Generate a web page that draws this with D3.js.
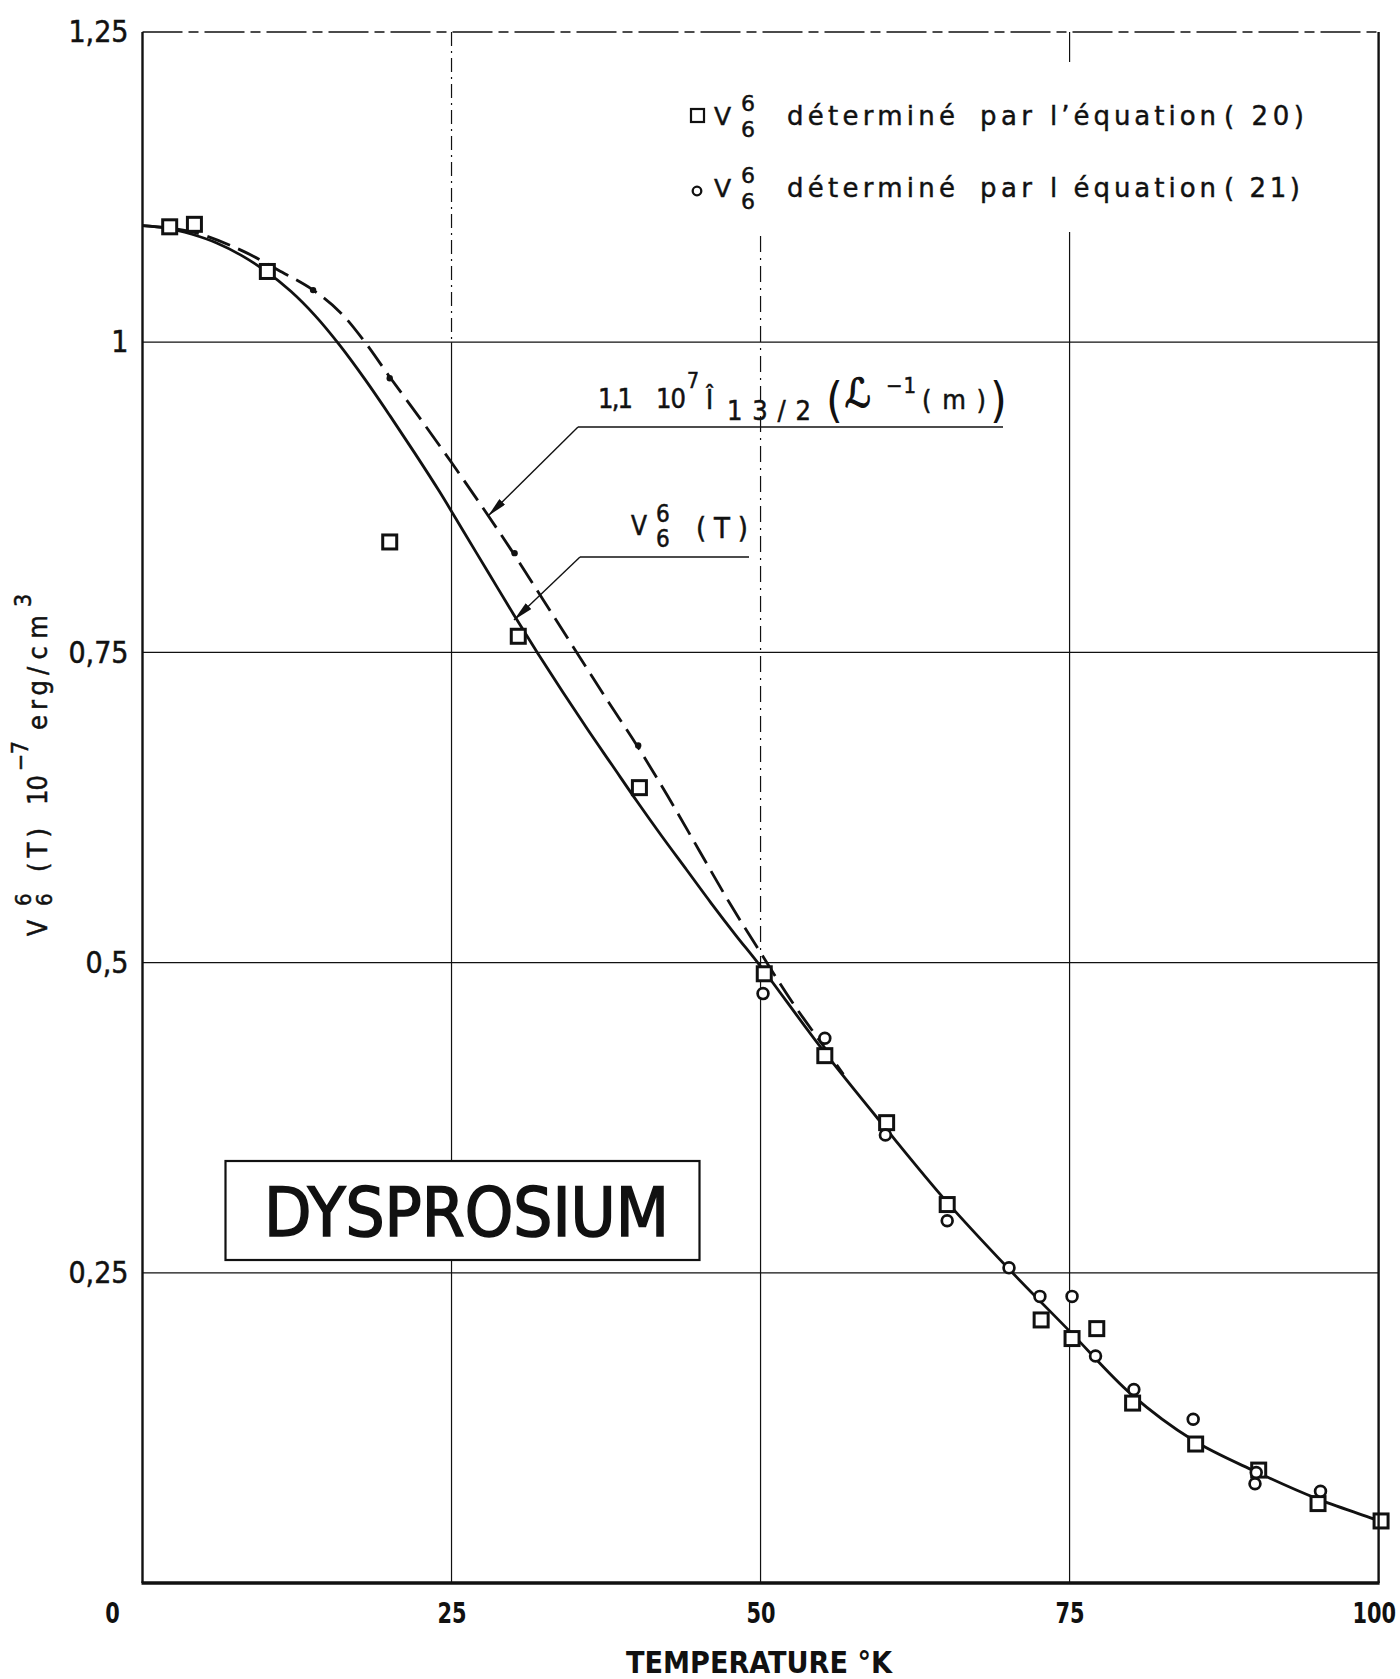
<!DOCTYPE html>
<html><head><meta charset="utf-8">
<script src="https://cdn.jsdelivr.net/npm/d3@7"></script>
<style>body{margin:0;background:#fff} svg{display:block}</style>
</head><body><svg id="c" width="1400" height="1679"></svg>
<script>
// ---- data ----
const xTicks = [0, 25, 50, 75, 100];
const xTickLabels = ["0", "25", "50", "75", "100"];
const yTicks = [0.25, 0.5, 0.75, 1, 1.25];
const yTickLabels = ["0,25", "0,5", "0,75", "1", "1,25"];

// V66 determined by equation (20): squares
const eq20T = [2.2, 4.2, 10.1, 20.0, 30.4, 40.2, 50.3, 55.2, 60.2, 65.1, 72.7, 75.2, 77.2, 80.1, 85.2, 90.3, 95.1, 100.2];
const eq20V = [1.093, 1.095, 1.057, 0.839, 0.763, 0.641, 0.491, 0.425, 0.371, 0.305, 0.212, 0.197, 0.205, 0.145, 0.112, 0.091, 0.064, 0.050];

// V66 determined by equation (21): circles
const eq21T = [50.2, 55.2, 60.1, 65.1, 70.1, 72.6, 75.2, 77.1, 80.2, 85.0, 90.1, 90.0, 95.3];
const eq21V = [0.475, 0.439, 0.361, 0.292, 0.254, 0.231, 0.231, 0.183, 0.156, 0.132, 0.089, 0.080, 0.074];

// V66(T) solid curve
const fitT = [0, 2, 4, 6, 8, 10, 12, 14, 16, 18, 20, 22, 24, 26, 28, 30, 32, 34, 36, 38, 40, 42, 44, 46, 48, 50, 55, 60, 65, 70, 75, 80, 85, 90, 95, 100, 100.6];
const fitV = [1.094, 1.092, 1.087, 1.080, 1.070, 1.057, 1.041, 1.021, 0.997, 0.970, 0.941, 0.911, 0.880, 0.847, 0.814, 0.781, 0.749, 0.718, 0.688, 0.659, 0.630, 0.602, 0.575, 0.548, 0.522, 0.497, 0.430, 0.368, 0.308, 0.254, 0.203, 0.152, 0.115, 0.090, 0.068, 0.050, 0.047];

// 1.1 10^7 Î13/2(L^-1(m)) dashed curve
const calcT = [0, 4, 8, 11, 13.8, 16, 18, 20, 22.5, 25, 27.5, 30, 32.5, 35, 37.5, 40, 42.5, 45, 47.5, 50, 52.5, 55, 56.7];
const calcV = [1.094, 1.089, 1.074, 1.058, 1.042, 1.024, 1.000, 0.972, 0.938, 0.903, 0.867, 0.830, 0.791, 0.752, 0.713, 0.675, 0.634, 0.591, 0.548, 0.508, 0.469, 0.434, 0.410];
const calcDotT = [13.8, 20.0, 30.1, 40.1];
const calcDotV = [1.042, 0.971, 0.830, 0.675];

// ---- drawing ----
const FONT = "'DejaVu Sans Condensed','DejaVu Sans',sans-serif";
const FONTW = "'DejaVu Sans',sans-serif";
const svg = d3.select("#c");
const x = d3.scaleLinear().domain([0, 100]).range([142.5, 1378.6]);
const y = d3.scaleLinear().domain([0, 1.25]).range([1583, 32]);
const ink = "#111";

// grid
const grid = svg.append("g").attr("stroke", ink).attr("stroke-width", 1.2).attr("fill", "none");
[0.25, 0.5, 0.75, 1].forEach(v => {
  grid.append("line").attr("x1", x(0)).attr("x2", x(100)).attr("y1", y(v)).attr("y2", y(v));
});
grid.append("line").attr("x1", x(25)).attr("x2", x(25)).attr("y1", y(1.25)).attr("y2", y(1)).attr("stroke-dasharray", "14,5,2,5");
grid.append("line").attr("x1", x(25)).attr("x2", x(25)).attr("y1", y(1)).attr("y2", y(0));
grid.append("line").attr("x1", x(50)).attr("x2", x(50)).attr("y1", 236).attr("y2", y(0.5)).attr("stroke-dasharray", "16,6,2,6");
grid.append("line").attr("x1", x(50)).attr("x2", x(50)).attr("y1", y(0.5)).attr("y2", y(0));
grid.append("line").attr("x1", x(75)).attr("x2", x(75)).attr("y1", y(1.25)).attr("y2", 62);
grid.append("line").attr("x1", x(75)).attr("x2", x(75)).attr("y1", 232).attr("y2", y(0));

// curves
const line = d3.line().x(d => x(d[0])).y(d => y(d[1])).curve(d3.curveCatmullRom.alpha(0.5));
svg.append("path").datum(fitT.map((t, i) => [t, fitV[i]]))
  .attr("d", line).attr("fill", "none").attr("stroke", ink).attr("stroke-width", 2.8);
svg.append("path").datum(calcT.map((t, i) => [t, calcV[i]]))
  .attr("d", line).attr("fill", "none").attr("stroke", ink).attr("stroke-width", 2.8)
  .attr("stroke-dasharray", "24,9");
svg.append("g").selectAll("circle").data(calcDotT.map((t, i) => [t, calcDotV[i]])).join("circle")
  .attr("cx", d => x(d[0])).attr("cy", d => y(d[1])).attr("r", 3.2).attr("fill", ink);

// markers
svg.append("g").selectAll("rect").data(eq20T.map((t, i) => [t, eq20V[i]])).join("rect")
  .attr("x", d => x(d[0]) - 7).attr("y", d => y(d[1]) - 7).attr("width", 14).attr("height", 14)
  .attr("fill", "#fff").attr("stroke", ink).attr("stroke-width", 3);
svg.append("g").selectAll("circle").data(eq21T.map((t, i) => [t, eq21V[i]])).join("circle")
  .attr("cx", d => x(d[0])).attr("cy", d => y(d[1])).attr("r", 5.4)
  .attr("fill", "#fff").attr("stroke", ink).attr("stroke-width", 2.7);

// frame
const fr = svg.append("g").attr("stroke", ink).attr("fill", "none");
fr.append("line").attr("x1", x(0)).attr("x2", x(100)).attr("y1", y(1.25)).attr("y2", y(1.25)).attr("stroke-width", 1.5).attr("stroke-dasharray", "40,6,10,6");
fr.append("line").attr("x1", x(0)).attr("x2", x(0)).attr("y1", y(1.25)).attr("y2", y(0)).attr("stroke-width", 2.4);
fr.append("line").attr("x1", x(100)).attr("x2", x(100)).attr("y1", y(1.25)).attr("y2", y(0)).attr("stroke-width", 2.4);
fr.append("line").attr("x1", x(0) - 1).attr("x2", x(100) + 1).attr("y1", y(0)).attr("y2", y(0)).attr("stroke-width", 3.5);

// axes (labels only)
const xa = svg.append("g").attr("transform", `translate(0,${y(0)})`)
  .call(d3.axisBottom(x).tickValues(xTicks).tickFormat((d, i) => xTickLabels[i]).tickSize(0).tickPadding(19));
xa.select(".domain").remove();
xa.selectAll("text").attr("font-family", FONT).attr("font-size", 29).attr("font-weight", "bold").attr("fill", ink)
  .attr("transform", "scale(0.8,1)")
  .attr("dx", (d, i) => i === 0 ? -38 : (i === 4 ? -6 : 0));
const ya = svg.append("g").attr("transform", `translate(${x(0)},0)`)
  .call(d3.axisLeft(y).tickValues(yTicks).tickFormat((d, i) => yTickLabels[i]).tickSize(0).tickPadding(14));
ya.select(".domain").remove();
ya.selectAll("text").attr("font-family", FONT).attr("font-size", 30).attr("fill", ink)
  .attr("stroke", ink).attr("stroke-width", 0.5);

// x title
svg.append("text").attr("x", 759).attr("y", 1673).attr("text-anchor", "middle")
  .attr("font-family", FONT).attr("font-size", 31).attr("font-weight", "bold").attr("fill", ink)
  .attr("textLength", 266).attr("lengthAdjust", "spacingAndGlyphs").text("TEMPERATURE °K");

// helper: stacked super/subscript pair in ONE text element
function stack(g, x0, yTop, yBot, size, a, b) {
  const t = g.append("text").attr("font-size", size);
  t.append("tspan").attr("x", x0).attr("y", yTop).text(a);
  t.append("tspan").attr("x", x0).attr("y", yBot).text(b);
  return t;
}

// y title (rotated)
const yt = svg.append("g").attr("transform", "translate(47,936) rotate(-90)")
  .attr("font-family", FONT).attr("fill", ink).attr("stroke", ink).attr("stroke-width", 0.5);
const ytParts = [
  {t: "V", x: 0, y: 0, s: 26},
  {t: "(T)", x: 64, y: 0, s: 27, w: 44},
  {t: "10", x: 131, y: 0, s: 27, w: 30},
  {t: "−7", x: 165, y: -19, s: 23, w: 30},
  {t: "erg", x: 206, y: 0, s: 27, w: 50},
  {t: "/cm", x: 261, y: 0, s: 27, w: 60},
  {t: "3", x: 329, y: -16, s: 23}
];
ytParts.forEach(p => {
  const t = yt.append("text").attr("x", p.x).attr("y", p.y).attr("font-size", p.s).text(p.t);
  if (p.w) t.attr("textLength", p.w).attr("lengthAdjust", "spacing");
});
stack(yt, 30, -16, 5, 22, "6", "6");

// legend
const lg = svg.append("g").attr("font-family", FONTW).attr("fill", ink).attr("stroke", ink).attr("stroke-width", 0.45);
lg.append("rect").attr("x", 691).attr("y", 109).attr("width", 13).attr("height", 13)
  .attr("fill", "#fff").attr("stroke", ink).attr("stroke-width", 2.2);
lg.append("circle").attr("cx", 697).attr("cy", 191).attr("r", 4.3)
  .attr("fill", "#fff").attr("stroke", ink).attr("stroke-width", 2.3);
const legRows = [
  {b: 125, words: [["déterminé", 787, 168], ["par", 980, 52], ["l’équation", 1050, 166], ["( 20)", 1224, 80]]},
  {b: 197, words: [["déterminé", 787, 168], ["par", 980, 52], ["l équation", 1050, 166], ["( 21)", 1224, 76]]}
];
legRows.forEach(r => {
  lg.append("text").attr("x", 714).attr("y", r.b).attr("font-size", 25).text("V");
  stack(lg, 741, r.b - 14, r.b + 12, 22, "6", "6");
  r.words.forEach(w => lg.append("text").attr("x", w[1]).attr("y", r.b).attr("font-size", 26)
    .attr("textLength", w[2]).attr("lengthAdjust", "spacing").text(w[0]));
});

// annotations
const defs = svg.append("defs");
defs.append("marker").attr("id", "ah").attr("viewBox", "0 0 20 8").attr("refX", 20).attr("refY", 4)
  .attr("markerWidth", 20).attr("markerHeight", 8).attr("markerUnits", "userSpaceOnUse").attr("orient", "auto")
  .append("path").attr("d", "M0,0 L20,4 L0,8 Z").attr("fill", ink);
const an = svg.append("g").attr("font-family", FONT).attr("fill", ink);
an.append("line").attr("x1", 578).attr("x2", 1003).attr("y1", 427).attr("y2", 427).attr("stroke", ink).attr("stroke-width", 1.4);
an.append("line").attr("x1", 578).attr("y1", 427).attr("x2", 488).attr("y2", 516).attr("stroke", ink).attr("stroke-width", 1.4).attr("marker-end", "url(#ah)");
an.append("line").attr("x1", 580).attr("x2", 749).attr("y1", 557).attr("y2", 557).attr("stroke", ink).attr("stroke-width", 1.4);
an.append("line").attr("x1", 580).attr("y1", 557).attr("x2", 514).attr("y2", 620).attr("stroke", ink).attr("stroke-width", 1.4).attr("marker-end", "url(#ah)");

const at = an.append("g").attr("stroke", ink).attr("stroke-width", 0.5);
const a1 = [
  {t: "1,1", x: 598, y: 408, s: 27, w: 35},
  {t: "10", x: 656, y: 408, s: 27, w: 30},
  {t: "7", x: 687, y: 388, s: 21},
  {t: "Î", x: 706, y: 409, s: 27},
  {t: "13/2", x: 727, y: 420, s: 27, w: 84},
  {t: "(", x: 826, y: 417, s: 48, sw: 0},
  {t: "ℒ", x: 845, y: 407, s: 40, it: true},
  {t: "−1", x: 886, y: 393, s: 22, w: 30},
  {t: "( m )", x: 922, y: 409, s: 27, w: 64},
  {t: ")", x: 990, y: 417, s: 48, sw: 0}
];
a1.forEach(p => {
  const t = at.append("text").attr("x", p.x).attr("y", p.y).attr("font-size", p.s).text(p.t);
  if (p.w) t.attr("textLength", p.w).attr("lengthAdjust", "spacing");
  if (p.it) t.attr("font-style", "italic").attr("stroke-width", 1.2);
  if (p.sw === 0) t.attr("stroke-width", 0);
});
at.append("text").attr("x", 631).attr("y", 535).attr("font-size", 26).text("V");
stack(at, 656, 522, 547, 24, "6", "6");
at.append("text").attr("x", 696).attr("y", 538).attr("font-size", 29)
  .attr("textLength", 52).attr("lengthAdjust", "spacing").text("( T )");

// DYSPROSIUM box
svg.append("rect").attr("x", x(0) + 83).attr("y", 1161).attr("width", 474).attr("height", 99)
  .attr("fill", "#fff").attr("stroke", ink).attr("stroke-width", 2.2);
svg.append("text").attr("x", 264).attr("y", 1236).attr("font-family", FONT).attr("font-size", 68)
  .attr("fill", ink).attr("stroke", ink).attr("stroke-width", 1.6)
  .attr("textLength", 405).attr("lengthAdjust", "spacingAndGlyphs").text("DYSPROSIUM");
</script></body></html>
